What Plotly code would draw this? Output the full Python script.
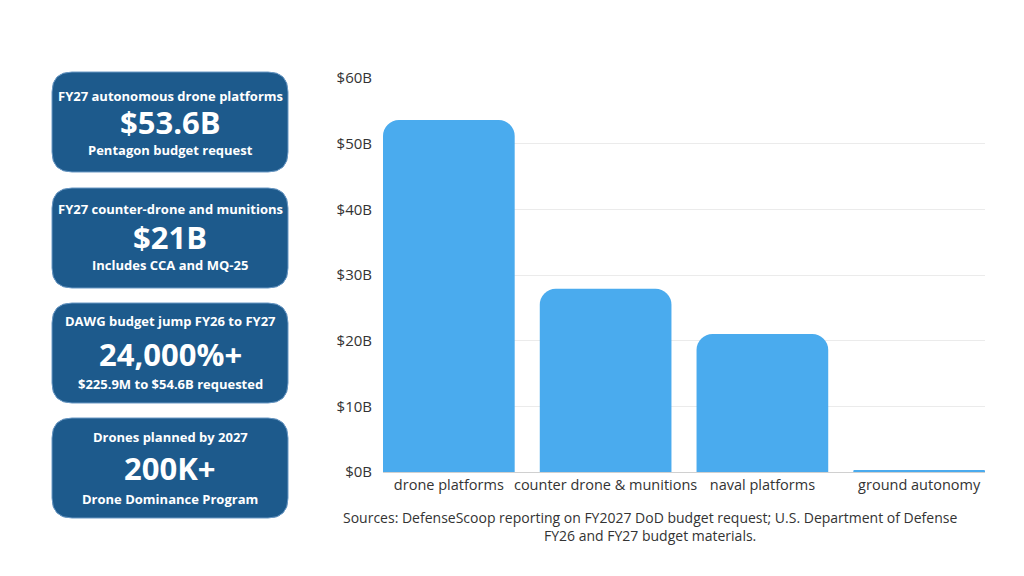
import plotly.graph_objects as go

W, H = 1024, 576

categories = ["drone platforms", "counter drone & munitions", "naval platforms", "ground autonomy"]
values = [53.6, 27.9, 21.0, 0.2]  # $B
y_ticks = [0, 10, 20, 30, 40, 50, 60]
y_tick_labels = ["$0B", "$10B", "$20B", "$30B", "$40B", "$50B", "$60B"]

card_titles = ["FY27 autonomous drone platforms", "FY27 counter-drone and munitions",
               "DAWG budget jump FY26 to FY27", "Drones planned by 2027"]
card_values = ["$53.6B", "$21B", "24,000%+", "200K+"]
card_notes = ["Pentagon budget request", "Includes CCA and MQ-25",
              "$225.9M to $54.6B requested", "Drone Dominance Program"]

source_text = ("Sources: DefenseScoop reporting on FY2027 DoD budget request; U.S. Department of Defense<br>"
               "FY26 and FY27 budget materials.")

FONT = "Open Sans"
CARD_BLUE = "#1d5a8c"
BAR_BLUE = "#4aabee"


def px(x):
    return x / W


def py(y):
    return 1 - y / H


def round_rect(x0, y0, x1, y1, r):
    # path in paper coords, built from pixel corners
    pts = [
        f"M {px(x0 + r)},{py(y0)}",
        f"L {px(x1 - r)},{py(y0)}",
        f"Q {px(x1)},{py(y0)} {px(x1)},{py(y0 + r)}",
        f"L {px(x1)},{py(y1 - r)}",
        f"Q {px(x1)},{py(y1)} {px(x1 - r)},{py(y1)}",
        f"L {px(x0 + r)},{py(y1)}",
        f"Q {px(x0)},{py(y1)} {px(x0)},{py(y1 - r)}",
        f"L {px(x0)},{py(y0 + r)}",
        f"Q {px(x0)},{py(y0)} {px(x0 + r)},{py(y0)}",
        "Z",
    ]
    return " ".join(pts)


def text_at(x, y, text, size, color="white"):
    return dict(x=px(x), y=py(y), xref="paper", yref="paper", xanchor="center", yanchor="middle",
                showarrow=False, text=text, align="center",
                font=dict(family=FONT, size=size, color=color))


fig = go.Figure()
fig.add_trace(go.Bar(x=categories, y=values, marker=dict(color=BAR_BLUE, line=dict(width=0)),
                     hoverinfo="x+y", showlegend=False))

shapes = []
annotations = []
card_tops = [72, 188, 303, 418]
title_dy = [24, 21, 18, 19]
value_dy = [50, 49, 51, 50]
note_dy = [78, 77, 81, 81]
for i, top in enumerate(card_tops):
    shapes.append(dict(type="path", xref="paper", yref="paper",
                       path=round_rect(52, top, 288, top + 100, 20),
                       fillcolor=CARD_BLUE, line=dict(color="#6a98c4", width=1), layer="below"))
    annotations.append(text_at(170, top + title_dy[i], f"<b>{card_titles[i]}</b>", 13))
    annotations.append(text_at(170, top + value_dy[i], f"<b>{card_values[i]}</b>", 31))
    annotations.append(text_at(170, top + note_dy[i], f"<b>{card_notes[i]}</b>", 13))

annotations.append(text_at(650, 526, source_text, 14, "#333333"))

fig.update_layout(
    width=W, height=H,
    margin=dict(l=0, r=0, t=0, b=0),
    paper_bgcolor="white", plot_bgcolor="white",
    bargap=0.16,
    barcornerradius=16,
    font=dict(family=FONT, size=14, color="#333333"),
    xaxis=dict(domain=[px(383), px(985)], range=[-0.42, 3.42], showgrid=False,
               showline=True, linecolor="#d0d0d0", linewidth=1, ticks="",
               tickfont=dict(family=FONT, size=14.5, color="#333333"), automargin=False,
               fixedrange=True),
    yaxis=dict(domain=[py(472), py(78)], range=[0, 60], tickvals=y_ticks, ticktext=y_tick_labels,
               showgrid=True, gridcolor="#ebebeb", gridwidth=1, zeroline=False, showline=False,
               ticklabelstandoff=10, tickfont=dict(family=FONT, size=15, color="#333333"),
               automargin=False, fixedrange=True),
    shapes=shapes,
    annotations=annotations,
)

# page body has a default 8px margin; drop it so the figure fills the window
fig.write_html("out.html", config={"displayModeBar": False},
               post_script="document.body.style.margin='0';")
